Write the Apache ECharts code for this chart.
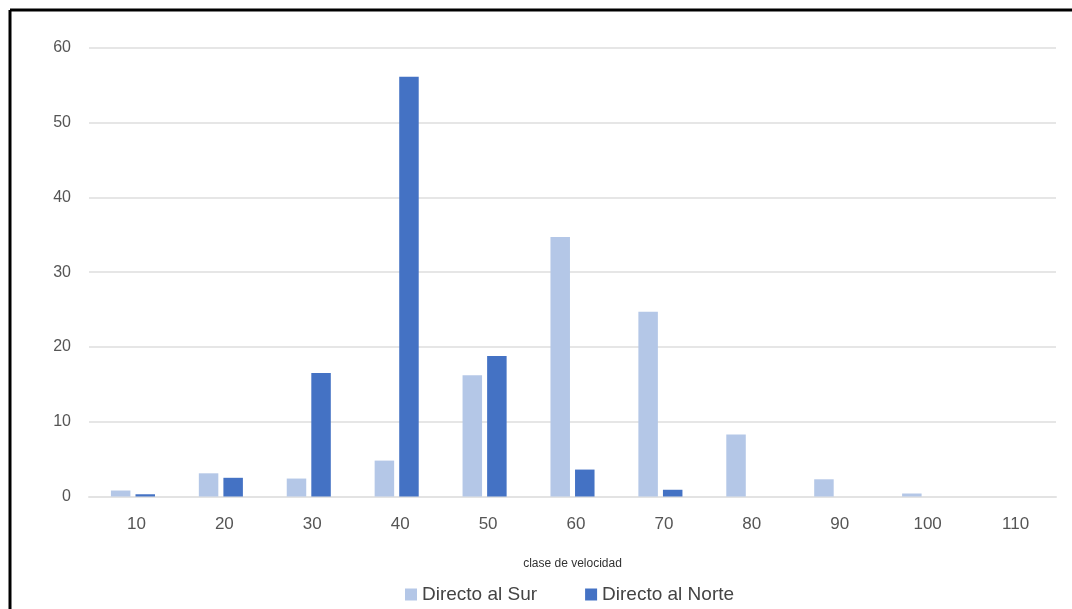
<!DOCTYPE html>
<html>
<head>
<meta charset="utf-8">
<script src="https://cdn.jsdelivr.net/npm/echarts@6/dist/echarts.min.js"></script>
<style>
html,body{margin:0;padding:0;background:#fff;}
#chart{width:1072px;height:609px;}
</style>
</head>
<body>
<div id="chart"></div>
<script>
const categories = ['10','20','30','40','50','60','70','80','90','100','110'];
const surValues = [0.8, 3.1, 2.4, 4.8, 16.2, 34.7, 24.7, 8.3, 2.3, 0.4, 0];
const norteValues = [0.3, 2.5, 16.5, 56.1, 18.8, 3.6, 0.9, 0, 0, 0, 0];
const yTicks = [0, 10, 20, 30, 40, 50, 60];

const chart = echarts.init(document.getElementById('chart'));
chart.setOption({
  animation: false,
  textStyle: {fontFamily: 'Liberation Sans, Arial, sans-serif'},
  graphic: [
    {type: 'line', shape: {x1: 10, y1: 10, x2: 1072, y2: 10}, style: {stroke: '#000', lineWidth: 3}},
    {type: 'line', shape: {x1: 10, y1: 10, x2: 10, y2: 609}, style: {stroke: '#000', lineWidth: 3}}
  ],
  grid: {left: 89, right: 16, top: 47.7, bottom: 112.5, containLabel: false},
  legend: {
    data: ['Directo al Sur', 'Directo al Norte'],
    top: 580, left: 400,
    itemWidth: 12, itemHeight: 12, itemGap: 48,
    icon: 'rect',
    textStyle: {fontSize: 19, color: '#444', fontFamily: 'Liberation Sans, Arial, sans-serif'}
  },
  xAxis: {
    type: 'category',
    data: categories,
    name: 'clase de velocidad',
    nameLocation: 'middle',
    nameGap: 61,
    nameTextStyle: {fontSize: 12, color: '#333'},
    axisLine: {show: true, lineStyle: {color: '#e3e3e3', width: 2}},
    axisTick: {show: false},
    axisLabel: {fontSize: 17, color: '#555', margin: 19, padding: [0, 0, 0, 7]}
  },
  yAxis: {
    type: 'value',
    min: 0, max: 60, interval: 10,
    axisLine: {show: false},
    axisTick: {show: false},
    axisLabel: {fontSize: 16, color: '#555', margin: 18,
      formatter: v => yTicks.includes(v) ? String(v) : ''},
    splitLine: {lineStyle: {color: '#e6e6e6', width: 2}}
  },
  series: [
    {name: 'Directo al Sur', type: 'bar', data: surValues, barWidth: 19.5, barGap: '26%',
     itemStyle: {color: '#b4c7e7'}},
    {name: 'Directo al Norte', type: 'bar', data: norteValues, barWidth: 19.5,
     itemStyle: {color: '#4472c4'}}
  ]
});
</script>
</body>
</html>
